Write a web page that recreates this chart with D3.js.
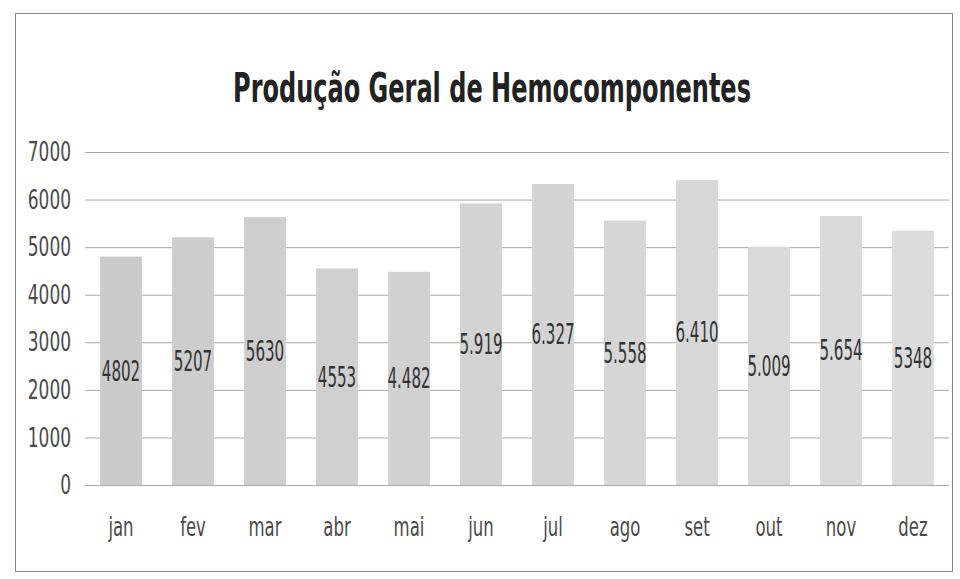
<!DOCTYPE html>
<html>
<head>
<meta charset="utf-8">
<script src="https://cdn.jsdelivr.net/npm/d3@7.9.0/dist/d3.min.js"></script>
<style>
  body { margin: 0; background: #fff; }
  svg { display: block; }
  text { font-family: "Liberation Sans Narrow", "DejaVu Sans Condensed", "Open Sans", sans-serif; }
</style>
</head>
<body>
<svg id="chart" width="960" height="579"></svg>
<script>
// data
const months = ['jan', 'fev', 'mar', 'abr', 'mai', 'jun', 'jul', 'ago', 'set', 'out', 'nov', 'dez'];
const production = [4802, 5207, 5630, 4553, 4482, 5919, 6327, 5558, 6410, 5009, 5654, 5348];
const valueLabels = ['4802', '5207', '5630', '4553', '4.482', '5.919', '6.327', '5.558', '6.410', '5.009', '5.654', '5348'];
const yTicks = [0, 1000, 2000, 3000, 4000, 5000, 6000, 7000];
const title = 'Produção Geral de Hemocomponentes';

const svg = d3.select('#chart');

// outer frame
svg.append('rect')
    .attr('x', 15.5).attr('y', 13.5)
    .attr('width', 937).attr('height', 558)
    .attr('fill', 'none')
    .attr('stroke', '#8a8a8a');

// title, squeezed horizontally to the width seen in the scan
let titleText = svg.append('text')
    .attr('text-anchor', 'middle')
    .attr('font-size', 40)
    .attr('font-weight', 'bold')
    .attr('fill', '#222')
    .text(title);
let titleW = titleText.node().getComputedTextLength();
titleText.attr('transform', `translate(492,102) scale(${518 / titleW},1)`);

let x = d3.scaleBand().domain(months).range([85, 949]).paddingInner(0.42).paddingOuter(0.21);
let y = d3.scaleLinear().domain([0, 7000]).range([485, 152]);

// gridlines
svg.append('g')
    .selectAll('line')
    .data(yTicks)
    .join('line')
    .attr('x1', 85).attr('x2', 949)
    .attr('y1', (d) => y(d) + 0.5).attr('y2', (d) => y(d) + 0.5)
    .attr('stroke', '#aaa')
    .attr('stroke-width', 1);

// y axis labels
let yAxis = svg.append('g')
    .attr('transform', 'translate(71,0)')
    .call(d3.axisLeft(y).tickValues(yTicks).tickSize(0).tickPadding(0).tickFormat(d3.format('d')));
yAxis.select('.domain').remove();
yAxis.selectAll('text')
    .attr('font-size', 27)
    .attr('fill', '#4a4a4a')
    .attr('transform', 'scale(0.7,1)');

// bars
svg.append('g')
    .selectAll('rect')
    .data(production)
    .join('rect')
    .attr('x', (d, i) => x(months[i]))
    .attr('y', (d) => y(d))
    .attr('width', x.bandwidth())
    .attr('height', (d) => y(0) - y(d))
    .attr('fill', (d, i) => d3.interpolateRgb('#cbcbcb', '#dcdcdc')(i / 11));

// data labels in the middle of each bar
svg.append('g')
    .selectAll('g')
    .data(production)
    .join('g')
    .attr('transform', (d, i) => `translate(${x(months[i]) + x.bandwidth() / 2},${y(d / 2)})`)
    .append('text')
    .attr('dy', '0.35em')
    .attr('text-anchor', 'middle')
    .attr('font-size', 28)
    .attr('fill', '#333')
    .attr('transform', 'scale(0.6,1)')
    .text((d, i) => valueLabels[i]);

// x axis labels
let xAxis = svg.append('g')
    .attr('transform', 'translate(0,505)')
    .call(d3.axisBottom(x).tickSize(0).tickPadding(12));
xAxis.select('.domain').remove();
xAxis.selectAll('text')
    .attr('font-size', 27)
    .attr('fill', '#4a4a4a')
    .attr('transform', 'scale(0.68,1)');
</script>
</body>
</html>
